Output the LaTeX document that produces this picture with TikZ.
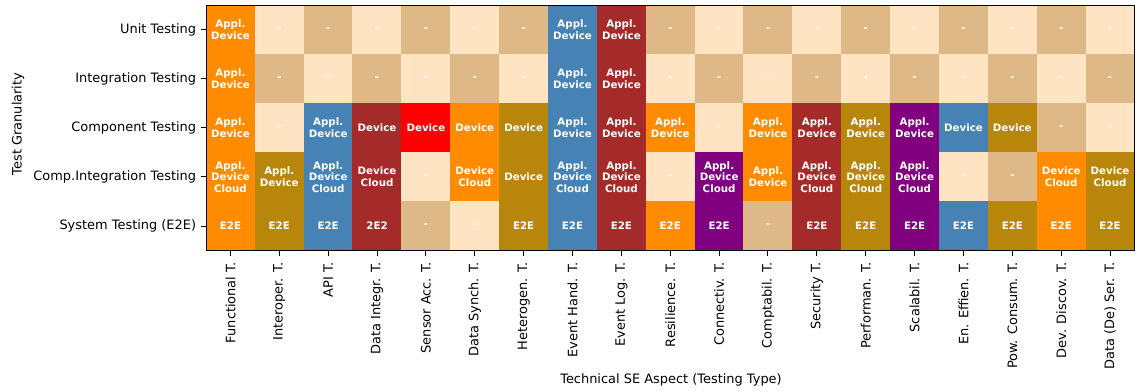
\documentclass[tikz,border=0pt]{standalone}
\usepackage{fontspec}
\setmainfont{DejaVu Sans}
\definecolor{dorange}{HTML}{FF8C00}
\definecolor{dgold}{HTML}{B8860B}
\definecolor{sblue}{HTML}{4682B4}
\definecolor{brwn}{HTML}{A52A2A}
\definecolor{rd}{HTML}{FF0000}
\definecolor{purp}{HTML}{800080}
\definecolor{burly}{HTML}{DEB887}
\definecolor{bisq}{HTML}{FFE4C4}
\newcommand{\AD}{Appl.\\Device}
\newcommand{\ADC}{Appl.\\Device\\Cloud}
\newcommand{\DC}{Device\\Cloud}
\tikzset{
  cell/.style={minimum width=36.85pt, minimum height=36.95pt, inner sep=0pt,
    text=white, align=center, font=\bfseries\fontsize{7.7}{8.85}\selectfont},
  ticklab/.style={inner sep=0pt, font=\fontsize{9.7}{11}\selectfont},
  axlab/.style={inner sep=0pt, font=\fontsize{9.7}{11}\selectfont},
  tickline/.style={line width=0.75pt, black},
}
\begin{document}
\begin{tikzpicture}[x=0.75pt, y=-0.75pt]
\useasboundingbox (0,0) rectangle (1138,392);
% heat-map cells: row / column / fill / text
\foreach \r/\c/\fc/\txt in {
 1/1/dorange/\AD, 2/1/dorange/\AD, 3/1/dorange/\AD, 4/1/dorange/\ADC, 5/1/dorange/E2E,
 1/2/bisq/-, 2/2/burly/-, 3/2/bisq/-, 4/2/dgold/\AD, 5/2/dgold/E2E,
 1/3/burly/-, 2/3/bisq/-, 3/3/sblue/\AD, 4/3/sblue/\ADC, 5/3/sblue/E2E,
 1/4/bisq/-, 2/4/burly/-, 3/4/brwn/Device, 4/4/brwn/\DC, 5/4/brwn/2E2,
 1/5/burly/-, 2/5/bisq/-, 3/5/rd/Device, 4/5/bisq/-, 5/5/burly/-,
 1/6/bisq/-, 2/6/burly/-, 3/6/dorange/Device, 4/6/dorange/\DC, 5/6/bisq/-,
 1/7/burly/-, 2/7/bisq/-, 3/7/dgold/Device, 4/7/dgold/Device, 5/7/dgold/E2E,
 1/8/sblue/\AD, 2/8/sblue/\AD, 3/8/sblue/\AD, 4/8/sblue/\ADC, 5/8/sblue/E2E,
 1/9/brwn/\AD, 2/9/brwn/\AD, 3/9/brwn/\AD, 4/9/brwn/\ADC, 5/9/brwn/E2E,
 1/10/burly/-, 2/10/bisq/-, 3/10/dorange/\AD, 4/10/bisq/-, 5/10/dorange/E2E,
 1/11/bisq/-, 2/11/burly/-, 3/11/bisq/-, 4/11/purp/\ADC, 5/11/purp/E2E,
 1/12/burly/-, 2/12/bisq/-, 3/12/dorange/\AD, 4/12/dorange/\AD, 5/12/burly/-,
 1/13/bisq/-, 2/13/burly/-, 3/13/brwn/\AD, 4/13/brwn/\ADC, 5/13/brwn/E2E,
 1/14/burly/-, 2/14/bisq/-, 3/14/dgold/\AD, 4/14/dgold/\ADC, 5/14/dgold/E2E,
 1/15/bisq/-, 2/15/burly/-, 3/15/purp/\AD, 4/15/purp/\ADC, 5/15/purp/E2E,
 1/16/burly/-, 2/16/bisq/-, 3/16/sblue/Device, 4/16/bisq/-, 5/16/sblue/E2E,
 1/17/bisq/-, 2/17/burly/-, 3/17/dgold/Device, 4/17/burly/-, 5/17/dgold/E2E,
 1/18/burly/-, 2/18/bisq/-, 3/18/burly/-, 4/18/dorange/\DC, 5/18/dorange/E2E,
 1/19/bisq/-, 2/19/burly/-, 3/19/bisq/-, 4/19/dgold/\DC, 5/19/dgold/E2E}
{
  \node[cell, fill=\fc] (c\r-\c) at ({206+(\c-0.5)*48.868},{5.5+(\r-0.5)*49}) {\txt};
}
% axes frame
\draw[line width=0.75pt, black] (206,5.5) rectangle (1134.5,250.5);
% row ticks and labels
\foreach \r/\lab in {1/Unit Testing, 2/Integration Testing, 3/Component Testing,
  4/Comp.Integration Testing, 5/System Testing (E2E)}
{
  \draw[tickline] (c\r-1.west) -- ++(-4.7,0) coordinate (yt\r);
  \node[ticklab, anchor=east] (yl\r) at ([xshift=-3.4pt]yt\r) {\lab};
}
% column ticks and labels
\foreach \c/\lab in {1/Functional T., 2/Interoper. T., 3/API T., 4/Data Integr. T.,
  5/Sensor Acc. T., 6/Data Synch. T., 7/Heterogen. T., 8/Event Hand. T.,
  9/Event Log. T., 10/Resilience. T., 11/Connectiv. T., 12/Comptabil. T.,
  13/Security T., 14/Performan. T., 15/Scalabil. T., 16/En. Effien. T.,
  17/Pow. Consum. T., 18/Dev. Discov. T., 19/Data (De) Ser. T.}
{
  \draw[tickline] (c5-\c.south) -- ++(0,4.7) coordinate (xt\c);
  \node[ticklab, rotate=90, anchor=east] (xl\c) at ([yshift=-4.6pt]xt\c) {\lab};
}
% axis titles
\node[axlab, rotate=90] (ytitle) at (18,124) {Test Granularity};
\node[axlab] (xtitle) at (671,380) {Technical SE Aspect (Testing Type)};
\end{tikzpicture}
\end{document}
